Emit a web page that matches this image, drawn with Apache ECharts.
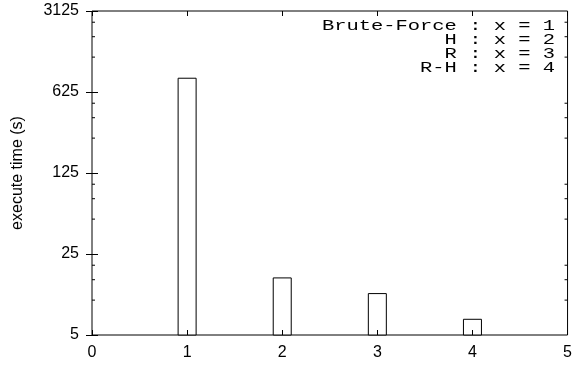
<!DOCTYPE html>
<html>
<head>
<meta charset="utf-8">
<script src="https://cdn.jsdelivr.net/npm/echarts@6/dist/echarts.min.js"></script>
<style>
  html, body { margin: 0; padding: 0; background: #fff; }
  #chart { width: 575px; height: 366px; }
</style>
</head>
<body>
<div id="chart"></div>
<script>
// bar positions and execute times (seconds)
const methods = ["Brute-Force", "H", "R", "R-H"];
const positions = [1, 2, 3, 4];
const times = [830, 15.7, 11.5, 6.9];

// gnuplot-style minor ticks for base 5: 2x, 3x, 4x of each decade
const minorTicks = [10, 15, 20, 50, 75, 100, 250, 375, 500, 1250, 1875, 2500];

const legendLines = methods.map((m, i) => m + " : x = " + positions[i]);

const chart = echarts.init(document.getElementById("chart"), null, { renderer: "canvas" });

const labelFont = {
  color: "#000",
  fontFamily: "Liberation Sans",
  fontSize: 16
};

const tickStyle = { color: "#000", width: 1 };

chart.setOption({
  animation: false,
  backgroundColor: "#fff",
  grid: {
    left: 92,
    right: 5,
    top: 11,
    bottom: 31,
    show: true,
    borderColor: "#000",
    borderWidth: 1,
    backgroundColor: "transparent"
  },
  xAxis: [
    {
      type: "value",
      min: 0,
      max: 5,
      interval: 1,
      position: "bottom",
      z: 10,
      axisLine: { show: false },
      axisTick: { show: true, inside: true, length: 5, lineStyle: tickStyle },
      axisLabel: Object.assign({ margin: 10 }, labelFont),
      splitLine: { show: false }
    },
    {
      type: "value",
      min: 0,
      max: 5,
      interval: 1,
      position: "top",
      z: 10,
      axisLine: { show: false },
      axisTick: { show: true, inside: true, length: 5, lineStyle: tickStyle },
      axisLabel: { show: false },
      splitLine: { show: false }
    }
  ],
  yAxis: [
    {
      type: "log",
      logBase: 5,
      min: 5,
      max: 3125,
      position: "left",
      z: 10,
      name: "execute time (s)",
      nameLocation: "middle",
      nameGap: 66,
      nameRotate: 90,
      nameTextStyle: { color: "#000", fontFamily: "Liberation Sans", fontSize: 16 },
      axisLine: { show: false },
      axisTick: { show: true, inside: true, length: 6, lineStyle: tickStyle },
      axisLabel: Object.assign({
        margin: 13,
        formatter: (v) => String(Math.round(v))
      }, labelFont),
      splitLine: { show: false }
    },
    {
      type: "log",
      logBase: 5,
      min: 5,
      max: 3125,
      position: "right",
      z: 10,
      axisLine: { show: false },
      axisTick: { show: true, inside: true, length: 6, lineStyle: tickStyle },
      axisLabel: { show: false },
      splitLine: { show: false }
    }
  ],
  graphic: [
    {
      type: "text",
      x: 555,
      y: 19,
      scaleX: 1.46,
      silent: true,
      style: {
        text: legendLines.join("\n"),
        align: "right",
        verticalAlign: "top",
        fontFamily: "Liberation Mono",
        fontSize: 14,
        lineHeight: 14,
        fill: "#000"
      }
    }
  ],
  series: [
    {
      type: "bar",
      xAxisIndex: 0,
      yAxisIndex: 0,
      data: positions.map((p, i) => [p, times[i]]),
      barWidth: 19,
      itemStyle: { color: "#fff", borderColor: "#000", borderWidth: 1 },
      z: 1
    },
    {
      type: "custom",
      xAxisIndex: 0,
      yAxisIndex: 0,
      data: minorTicks,
      silent: true,
      z: 3,
      renderItem: function (params, api) {
        const v = api.value(0);
        const l = api.coord([0, v]);
        const r = api.coord([5, v]);
        return {
          type: "group",
          children: [
            { type: "line", shape: { x1: l[0], y1: l[1], x2: l[0] + 3, y2: l[1] }, style: { stroke: "#000", lineWidth: 1 } },
            { type: "line", shape: { x1: r[0], y1: r[1], x2: r[0] - 3, y2: r[1] }, style: { stroke: "#000", lineWidth: 1 } }
          ]
        };
      }
    }
  ]
});
</script>
</body>
</html>
